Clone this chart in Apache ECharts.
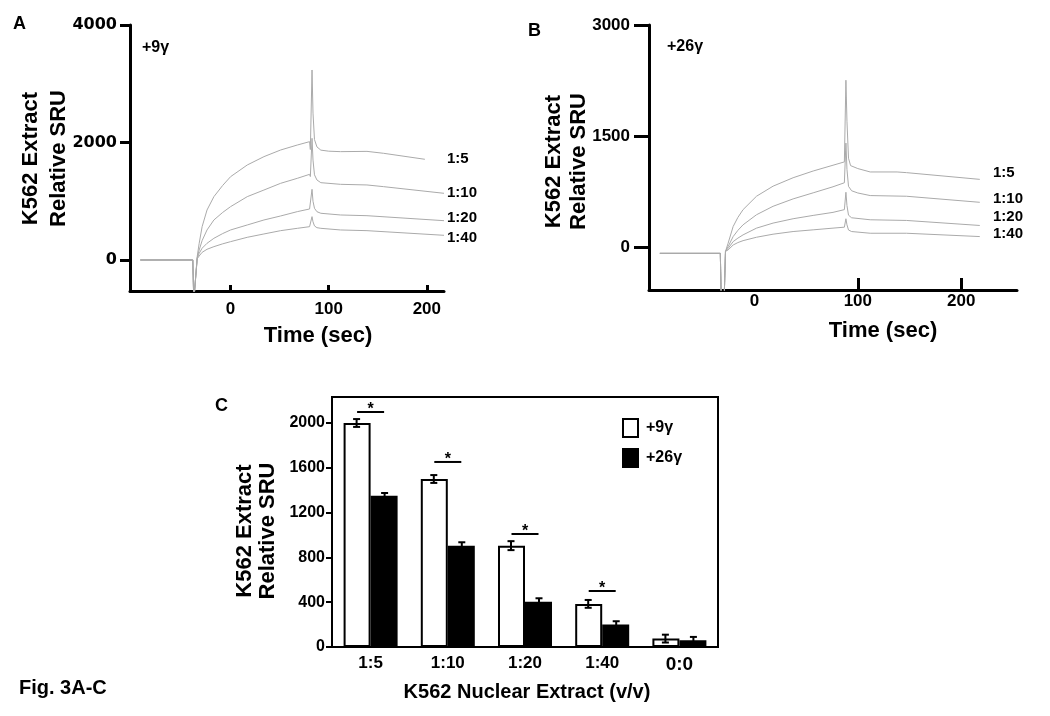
<!DOCTYPE html>
<html><head><meta charset="utf-8">
<script src="https://cdn.jsdelivr.net/npm/echarts@6/dist/echarts.min.js"></script>
<style>html,body{margin:0;padding:0;background:#fff}#c{width:1050px;height:716px}</style>
</head><body><div id="c"></div>
<script>
// ---------- Panel A (+9γ): [time (sec), relative SRU] ----------
const aBaseline = [[-92,0],[-38.5,0],[-37.5,-700],[-35.5,-700]];
const aCurve1to5  = [[-34,60],[-32,284],[-29,567],[-24,851],[-17,1078],[-8,1270],[0,1418],[17,1617],[34,1759],[51,1872],[68,1957],[80.5,2014],[81.3,1880],[83,3234],[84,2500],[85.5,2050],[88,1925],[92,1870],[100,1852],[112,1844],[139,1849],[156,1816],[198,1714]];
const aCurve1to10 = [[-34,40],[-32,170],[-29,330],[-24,511],[-17,681],[-8,810],[0,908],[17,1078],[34,1191],[51,1305],[68,1390],[80.5,1458],[81.3,1420],[83,2071],[84,1700],[85.5,1450],[88,1362],[92,1316],[112,1288],[139,1277],[156,1248],[217.5,1135]];
const aCurve1to20 = [[-34,30],[-32,113],[-29,200],[-24,284],[-17,369],[-8,450],[0,511],[17,596],[34,681],[51,749],[68,823],[80.5,868],[81.3,850],[83,1203],[84,1000],[85.5,880],[88,822],[92,795],[112,766],[139,754],[217.5,669]];
const aCurve1to40 = [[-34,20],[-32,68],[-29,130],[-24,182],[-17,227],[-8,275],[0,312],[17,386],[34,443],[51,499],[68,539],[80.5,567],[81.3,560],[83,738],[84,650],[85.5,580],[88,550],[92,539],[112,511],[139,499],[217.5,420]];
// ---------- Panel B (+26γ) ----------
const bBaseline = [[-91.5,-86],[-33,-86],[-32,-800],[-29.5,-800],[-28,-60]];
const bCurve1to5  = [[-25.5,50],[-20.6,277],[-16,400],[-11,505],[2,686],[18,822],[37.4,936],[56.8,1027],[76,1105],[87,1150],[88.5,2254],[89.5,1700],[91,1200],[93,1100],[100,1060],[112,1014],[138,1014],[147,1005],[218,914]];
const bCurve1to10 = [[-25.5,5],[-20.6,141],[-16,225],[-11,300],[2,436],[18,550],[37.4,650],[56.8,732],[76,814],[87,868],[88.5,1404],[89.5,1050],[91,820],[94,760],[100,730],[112,695],[147,686],[218,604]];
const bCurve1to20 = [[-25.5,-20],[-20.6,73],[-16,120],[-11,164],[2,255],[18,323],[37.4,382],[56.8,427],[76,468],[87,505],[88.5,740],[89.5,560],[91,430],[94,395],[112,368],[147,359],[218,291]];
const bCurve1to40 = [[-25.5,-40],[-20.6,27],[-16,60],[-11,86],[2,132],[18,173],[37.4,209],[56.8,232],[76,255],[87,268],[88.5,382],[89.5,300],[91,230],[94,209],[112,186],[147,186],[218,141]];
// ---------- Tick labels ----------
const ticksAx = [0,100,200];
const ticksAy = [0,2000,4000];
const ticksBx = [0,100,200];
const tickMarksBx = [100,200];
const ticksBy = [0,1500,3000];
const ticksCy = [0,400,800,1200,1600,2000];
// ---------- Panel C ----------
const categories = ['1:5','1:10','1:20','1:40','0:0'];
const plus9  = [2000,1500,905,385,75];
const plus26 = [1350,905,405,200,60];
const err9   = [35,35,40,35,35];
const err26  = [25,30,30,30,30];
const sigLevel = [2098,1652,1009,500];

const NUM = 'DejaVu Sans', TXT = 'Liberation Sans';
const GRAY = '#aaaaaa';
const plain = v => String(v);
const chart = echarts.init(document.getElementById('c'), null, {renderer:'canvas'});

function lineSeries(idx, base, curve){
  return {type:'line', xAxisIndex:idx, yAxisIndex:idx, data: base.concat(curve), showSymbol:false, symbol:'none',
    lineStyle:{color:GRAY, width:1}, itemStyle:{color:GRAY}, silent:true, clip:true, animation:false};
}
function valAxis(o){
  return Object.assign({type:'value', splitLine:{show:false},
    axisLine:{show:true, onZero:false, lineStyle:{color:'#000', width:3}}}, o);
}
function txt(x,y,text,size,opts){
  opts = opts || {};
  return {type:'text', x:x, y:y, rotation: opts.rot || 0, silent:true,
    style:{text:text, fill:'#000', fontFamily: opts.family || TXT, fontWeight:'bold', fontSize:size,
      align: opts.align || 'left', verticalAlign:'middle'}};
}
function errSeries(vals, errs, off){
  return {type:'custom', xAxisIndex:2, yAxisIndex:2, z:5, silent:true, animation:false,
    data: vals.map((v,i)=>[i,v,errs[i]]),
    renderItem:function(params, api){
      const i = api.value(0), v = api.value(1), e = api.value(2);
      const x = api.coord([i, v])[0] + off;
      const yt = api.coord([i, v+e])[1], yb = api.coord([i, v-e])[1];
      return {type:'group', children:[
        {type:'line', shape:{x1:x,y1:yt,x2:x,y2:yb}, style:{stroke:'#000', lineWidth:2}},
        {type:'line', shape:{x1:x-3.5,y1:yt,x2:x+3.5,y2:yt}, style:{stroke:'#000', lineWidth:2}},
        {type:'line', shape:{x1:x-3.5,y1:yb,x2:x+3.5,y2:yb}, style:{stroke:'#000', lineWidth:2}}
      ]};
    }};
}

const option = {
  animation:false,
  textStyle:{fontFamily:TXT},
  grid:[
    {left:130, top:25, width:314, height:266, outerBoundsMode:'none'},
    {left:649, top:25, width:368, height:265, outerBoundsMode:'none'},
    {left:332, top:397, width:386, height:250, show:true, borderColor:'#000', borderWidth:2, outerBoundsMode:'none'}
  ],
  xAxis:[
    valAxis({gridIndex:0, min:-102.5, max:217.5,
      axisTick:{show:true, inside:true, length:6, customValues:ticksAx, lineStyle:{color:'#000', width:3}},
      axisLabel:{customValues:ticksAx, formatter:plain, margin:10, color:'#000', fontFamily:TXT, fontWeight:'bold', fontSize:17}}),
    valAxis({gridIndex:1, min:-102, max:254,
      axisTick:{show:true, inside:true, length:12, customValues:tickMarksBx, lineStyle:{color:'#000', width:3}},
      axisLabel:{customValues:ticksBx, formatter:plain, margin:3, color:'#000', fontFamily:TXT, fontWeight:'bold', fontSize:17}}),
    {gridIndex:2, type:'category', data:categories,
      axisLine:{show:true, lineStyle:{color:'#000', width:2}}, axisTick:{show:false},
      axisLabel:{interval:0, hideOverlap:false, margin:8, color:'#000', fontFamily:TXT, fontWeight:'bold', fontSize:17,
        formatter:v => v==='0:0' ? '{big|'+v+'}' : v,
        rich:{big:{fontFamily:TXT, fontWeight:'bold', fontSize:19, color:'#000'}}}}
  ],
  yAxis:[
    valAxis({gridIndex:0, min:-528, max:4000,
      axisTick:{show:true, length:10, customValues:ticksAy, lineStyle:{color:'#000', width:3}},
      axisLabel:{customValues:ticksAy, formatter:plain, margin:13, color:'#000', fontFamily:NUM, fontWeight:'bold', fontSize:16}}),
    valAxis({gridIndex:1, min:-581, max:3000,
      axisTick:{show:true, length:15, customValues:ticksBy, lineStyle:{color:'#000', width:3}},
      axisLabel:{customValues:ticksBy, formatter:plain, margin:19, color:'#000', fontFamily:TXT, fontWeight:'bold', fontSize:17}}),
    {gridIndex:2, type:'value', min:0, max:2232, splitLine:{show:false},
      axisLine:{show:true, lineStyle:{color:'#000', width:2}},
      axisTick:{show:true, length:6, customValues:ticksCy, lineStyle:{color:'#000', width:2}},
      axisLabel:{customValues:ticksCy, formatter:plain, margin:7, color:'#000', fontFamily:TXT, fontWeight:'bold', fontSize:16}}
  ],
  legend:{data:['+9γ','+26γ'], orient:'vertical', left:617, top:413, itemWidth:15, itemHeight:18, itemGap:10,
    icon:'rect', selectedMode:false,
    textStyle:{fontFamily:TXT, fontWeight:'bold', fontSize:16, color:'#000', padding:[0,0,4,3]}},
  series:[
    lineSeries(0, aBaseline, aCurve1to5),
    lineSeries(0, aBaseline, aCurve1to10),
    lineSeries(0, aBaseline, aCurve1to20),
    lineSeries(0, aBaseline, aCurve1to40),
    lineSeries(1, bBaseline, bCurve1to5),
    lineSeries(1, bBaseline, bCurve1to10),
    lineSeries(1, bBaseline, bCurve1to20),
    lineSeries(1, bBaseline, bCurve1to40),
    {type:'bar', name:'+9γ', xAxisIndex:2, yAxisIndex:2, data:plus9, barWidth:27, barGap:'0%',
      itemStyle:{color:'#fff', borderColor:'#000', borderWidth:2}, silent:true},
    {type:'bar', name:'+26γ', xAxisIndex:2, yAxisIndex:2, data:plus26, barWidth:27, barGap:'0%',
      itemStyle:{color:'#000', borderColor:'#000', borderWidth:2}, silent:true},
    errSeries(plus9, err9, -14),
    errSeries(plus26, err26, 14),
    {type:'custom', xAxisIndex:2, yAxisIndex:2, z:6, silent:true, animation:false,
      data: sigLevel.map((v,i)=>[i,v]),
      renderItem:function(params, api){
        const p = api.coord([api.value(0), api.value(1)]);
        return {type:'group', children:[
          {type:'line', shape:{x1:p[0]-13.5,y1:p[1],x2:p[0]+13.5,y2:p[1]}, style:{stroke:'#000', lineWidth:2}},
          {type:'text', x:p[0], y:p[1]-2, style:{text:'*', fill:'#000', fontFamily:TXT, fontWeight:'bold', fontSize:16, align:'center', verticalAlign:'middle'}}
        ]};
      }}
  ],
  graphic:[
    txt(13,24,'A',18),
    txt(528,31,'B',18),
    txt(215,406,'C',18),
    txt(142,47.5,'+9γ',16),
    txt(667,47,'+26γ',16),
    txt(447,159,'1:5',15), txt(447,192.5,'1:10',15), txt(447,217.5,'1:20',15), txt(447,237.5,'1:40',15),
    txt(993,172.5,'1:5',15), txt(993,199,'1:10',15), txt(993,216.5,'1:20',15), txt(993,234,'1:40',15),
    txt(31,158.5,'K562 Extract',22,{rot:Math.PI/2, align:'center'}),
    txt(58.5,158.5,'Relative SRU',22,{rot:Math.PI/2, align:'center'}),
    txt(553.5,161.5,'K562 Extract',22,{rot:Math.PI/2, align:'center'}),
    txt(578.5,161.5,'Relative SRU',22,{rot:Math.PI/2, align:'center'}),
    txt(245,531,'K562 Extract',22,{rot:Math.PI/2, align:'center'}),
    txt(267.5,531,'Relative SRU',22,{rot:Math.PI/2, align:'center'}),
    txt(318,336,'Time (sec)',22,{align:'center'}),
    txt(883,331,'Time (sec)',22,{align:'center'}),
    txt(527,692,'K562 Nuclear Extract (v/v)',20,{align:'center'}),
    txt(19,688,'Fig. 3A-C',20)
  ]
};
chart.setOption(option);
</script></body></html>
